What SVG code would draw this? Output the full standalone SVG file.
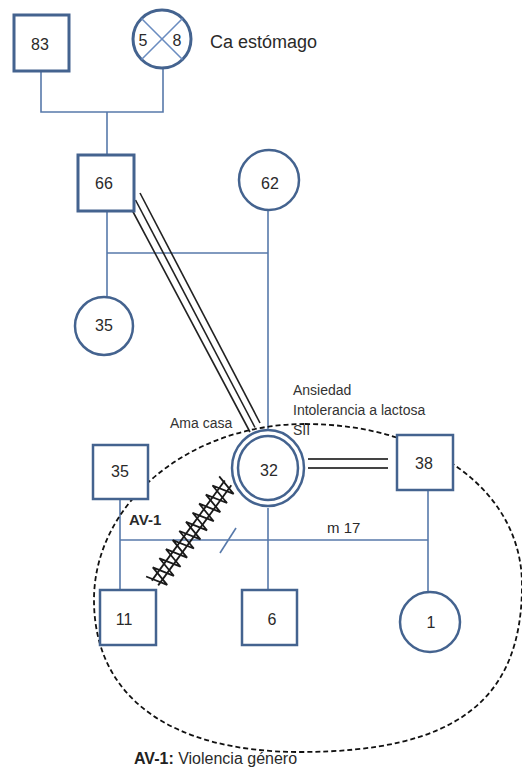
<svg xmlns="http://www.w3.org/2000/svg" width="522" height="769" viewBox="0 0 522 769">
<style>
.node{fill:#fff;stroke:#44638f;stroke-width:2.5}
.thick{stroke-width:3}
.ln{fill:none;stroke:#5779aa;stroke-width:1.6}
.blk{fill:none;stroke:#222;stroke-width:1.6}
.dbl{fill:none;stroke:#444;stroke-width:2.2}
.t{font-family:"Liberation Sans",Arial,sans-serif;fill:#2a2a2a}
.c{text-anchor:middle}
.num{font-size:16px}
.lbl{font-size:14px;fill:#333}
</style>
<rect width="522" height="769" fill="#fff"/>

<g id="connectors">
  <polyline class="ln" points="41,71 41,112 163,112 163,68"/>
  <line class="ln" x1="107" y1="112" x2="107" y2="155"/>
  <line class="ln" x1="107" y1="211" x2="107" y2="296"/>
  <line class="ln" x1="107" y1="253" x2="268" y2="253"/>
  <line class="ln" x1="268" y1="210" x2="268" y2="434"/>
  <line class="blk" x1="131" y1="208" x2="250" y2="432"/>
  <line class="blk" x1="135.5" y1="200" x2="255" y2="427.5"/>
  <line class="blk" x1="140" y1="193" x2="260" y2="423"/>
  <line class="dbl" x1="308" y1="459" x2="388" y2="459"/>
  <line class="dbl" x1="308" y1="468" x2="388" y2="468"/>
  <line class="ln" x1="120" y1="499" x2="120" y2="590"/>
  <line class="ln" x1="120" y1="540" x2="428" y2="540"/>
  <line class="ln" x1="220" y1="553" x2="236" y2="528"/>
  <line class="ln" x1="268" y1="508" x2="268" y2="590"/>
  <line class="ln" x1="428" y1="490" x2="428" y2="592"/>
  <g id="hostile" fill="none" stroke="#1a1a1a" stroke-width="1.8">
    <line x1="158.2" y1="585.4" x2="231.3" y2="485.3"/>
    <line x1="151.8" y1="580.6" x2="224.8" y2="480.5"/>
    <polyline points="146.1,576.5 167.2,584.9 152.8,567.4 173.8,575.8 159.4,558.3 180.5,566.7 166.0,549.2 187.1,557.6 172.7,540.1 193.8,548.5 179.3,531.0 200.4,539.4 186.0,521.9 207.0,530.3 192.6,512.8 213.7,521.2 199.2,503.7 220.3,512.1 205.9,494.6 227.0,503.0 212.5,485.5 233.6,493.9 219.2,476.4"/>
  </g>
</g>

<g id="household">
  <path d="M 305,424 C 431,424 522,492 522,585 C 522,701 455,752 300,752 C 172,752 94,698 94,600 C 94,503 189,424 305,424 Z" fill="none" stroke="#111" stroke-width="1.8" stroke-dasharray="5,3"/>
</g>

<g id="n83">
  <rect class="node thick" x="14" y="15" width="55" height="56"/>
  <text class="t c num" x="40" y="50" font-size="17">83</text>
</g>
<g id="n58">
  <circle class="node thick" cx="162" cy="39" r="29"/>
  <line x1="141.5" y1="18.5" x2="182.5" y2="59.5" stroke="#6a8cc0" stroke-width="1.6"/>
  <line x1="182.5" y1="18.5" x2="141.5" y2="59.5" stroke="#6a8cc0" stroke-width="1.6"/>
  <text class="t c num" x="143" y="46">5</text>
  <text class="t c num" x="177" y="46">8</text>
</g>
<g id="lbl-ca">
  <text class="t" x="210" y="48" font-size="18" fill="#333">Ca estómago</text>
</g>
<g id="n66">
  <rect class="node thick" x="78" y="155" width="56" height="56"/>
  <text class="t c num" x="104" y="189">66</text>
</g>
<g id="n62">
  <circle class="node" cx="269" cy="180" r="30"/>
  <text class="t c num" x="270" y="189">62</text>
</g>
<g id="n35f">
  <circle class="node" cx="104" cy="326" r="29"/>
  <text class="t c num" x="104" y="331">35</text>
</g>
<g id="n32">
  <ellipse class="node" cx="268" cy="468" rx="36" ry="38"/>
  <ellipse class="node" cx="268" cy="468" rx="30" ry="32"/>
  <text class="t c num" x="269" y="476" font-size="17">32</text>
</g>
<g id="lbl-32">
  <text class="t lbl" x="293" y="395">Ansiedad</text>
  <text class="t lbl" x="293" y="415">Intolerancia a lactosa</text>
  <text class="t lbl" x="293" y="435">SII</text>
  <text class="t lbl" x="170" y="428" font-size="13.5">Ama casa</text>
</g>
<g id="n38">
  <rect class="node" x="397" y="435" width="56" height="55"/>
  <text class="t c num" x="424" y="469" font-size="17">38</text>
</g>
<g id="n35m">
  <rect class="node" x="93" y="445" width="55" height="54"/>
  <text class="t c num" x="120" y="477" font-size="17">35</text>
</g>
<g id="lbl-av1">
  <text class="t" x="129" y="525" font-size="15" font-weight="bold" fill="#222">AV-1</text>
</g>
<g id="lbl-m17">
  <text class="t" x="327" y="533" font-size="15" fill="#333">m 17</text>
</g>
<g id="n11">
  <rect class="node" x="100" y="590" width="56" height="55"/>
  <text class="t c num" x="124" y="625">11</text>
</g>
<g id="n6">
  <rect class="node" x="242" y="590" width="55" height="55"/>
  <text class="t c num" x="272" y="625">6</text>
</g>
<g id="n1">
  <circle class="node" cx="430" cy="622" r="30"/>
  <text class="t c num" x="431" y="628">1</text>
</g>
<g id="legend">
  <text class="t" x="134" y="764" font-size="16" fill="#333"><tspan font-weight="bold" fill="#222">AV-1:</tspan> Violencia género</text>
</g>
</svg>
